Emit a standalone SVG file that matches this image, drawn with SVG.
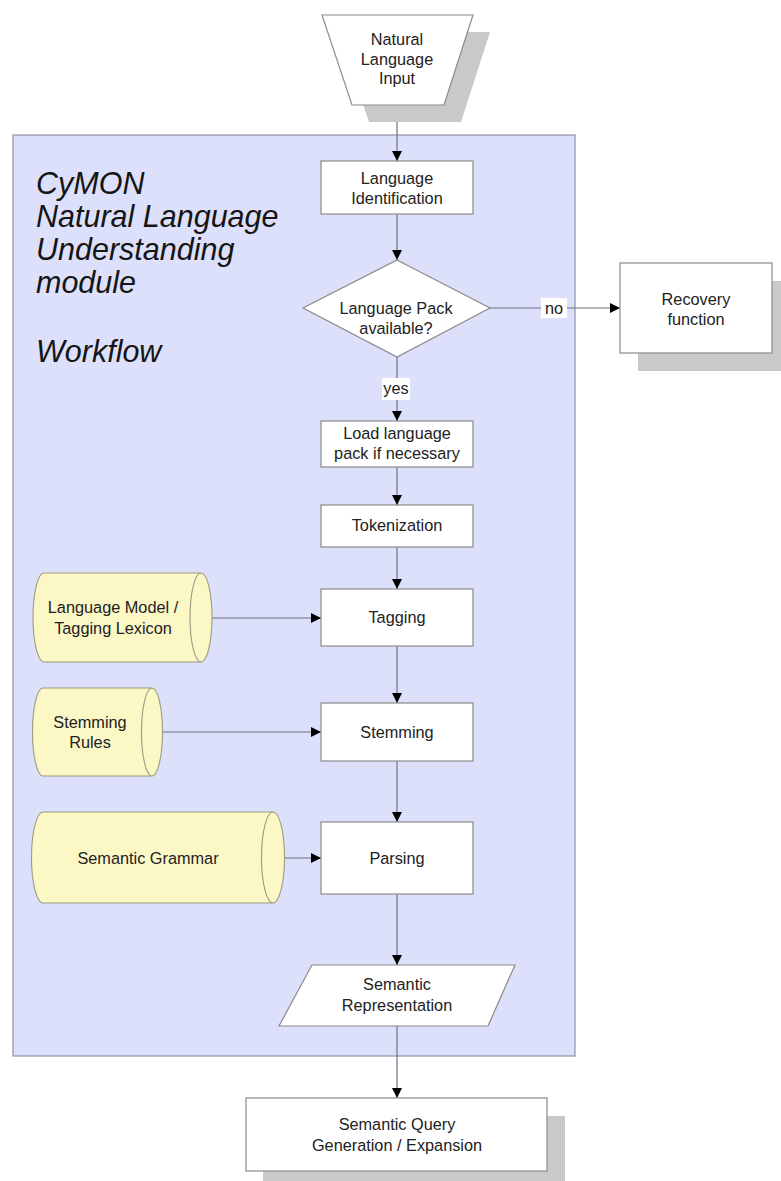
<svg xmlns="http://www.w3.org/2000/svg" width="781" height="1181" viewBox="0 0 781 1181">
<defs>
<marker id="ah" viewBox="0 0 10 10" refX="10" refY="5" markerWidth="10" markerHeight="10" markerUnits="userSpaceOnUse" orient="auto">
<path d="M0,0 L10,5 L0,10 Z" fill="#000"/>
</marker>
<style>
.box{fill:#fff;stroke:#8a8a8a;stroke-width:1.2}
.shadow{fill:#c9c9c9;stroke:none}
.cyl{fill:#fbf8c6;stroke:#9c9a80;stroke-width:1.1}
.t{font-family:"Liberation Sans",Arial,sans-serif;font-size:16.3px;fill:#222;text-anchor:middle}
.title{font-family:"Liberation Sans",Arial,sans-serif;font-size:30.5px;font-style:italic;fill:#151515}
.edge{stroke:#6f7080;stroke-width:1.2;fill:none;marker-end:url(#ah)}
.lbl{fill:#fff}
</style>
</defs>
<rect width="781" height="1181" fill="#fff"/>
<g id="panel">
<rect x="13" y="135" width="562" height="921" fill="#dde0fa" stroke="#8e92a6" stroke-width="1.2"/>
<text class="title" x="36" y="194">CyMON</text>
<text class="title" x="36" y="227">Natural Language</text>
<text class="title" x="36" y="260">Understanding</text>
<text class="title" x="36" y="293">module</text>
<text class="title" x="36" y="362">Workflow</text>
</g>
<g id="connectors">
<line class="edge" x1="397" y1="105" x2="397" y2="161"/>
<line class="edge" x1="397" y1="214" x2="397" y2="260"/>
<line class="edge" x1="490" y1="308" x2="620" y2="308"/>
<rect class="lbl" x="541" y="298" width="26" height="20"/>
<text class="t" x="554" y="314">no</text>
<line class="edge" x1="397" y1="357" x2="397" y2="421"/>
<rect class="lbl" x="382" y="378" width="28" height="22"/>
<text class="t" x="396" y="394">yes</text>
<line class="edge" x1="397" y1="467" x2="397" y2="505"/>
<line class="edge" x1="397" y1="547" x2="397" y2="589"/>
<line class="edge" x1="397" y1="646" x2="397" y2="703"/>
<line class="edge" x1="397" y1="761" x2="397" y2="822"/>
<line class="edge" x1="397" y1="894" x2="397" y2="965"/>
<line class="edge" x1="397" y1="1026" x2="397" y2="1098"/>
<line class="edge" x1="201" y1="618" x2="321" y2="618"/>
<line class="edge" x1="152" y1="732" x2="321" y2="732"/>
<line class="edge" x1="273" y1="858" x2="321" y2="858"/>
</g>
<g id="nl-input">
<path class="shadow" d="M339,32 L490,32 L461,122 L369,122 Z"/>
<path class="box" d="M322,15 L473,15 L444,105 L352,105 Z"/>
<text class="t" x="397" y="45">Natural</text>
<text class="t" x="397" y="65">Language</text>
<text class="t" x="397" y="84">Input</text>
</g>
<g id="lang-id">
<rect class="box" x="321" y="161" width="152" height="53"/>
<text class="t" x="397" y="184">Language</text>
<text class="t" x="397" y="204">Identification</text>
</g>
<g id="decision">
<path class="box" d="M397,260 L490,308 L397,357 L303,308 Z"/>
<text class="t" x="396" y="314">Language Pack</text>
<text class="t" x="396" y="334">available?</text>
</g>
<g id="recovery">
<rect class="shadow" x="638" y="281" width="143" height="90"/>
<rect class="box" x="620" y="263" width="152" height="90"/>
<text class="t" x="696" y="305">Recovery</text>
<text class="t" x="696" y="325">function</text>
</g>
<g id="load-pack">
<rect class="box" x="321" y="421" width="152" height="46"/>
<text class="t" x="397" y="439">Load language</text>
<text class="t" x="397" y="459">pack if necessary</text>
</g>
<g id="tokenization">
<rect class="box" x="321" y="505" width="152" height="42"/>
<text class="t" x="397" y="531">Tokenization</text>
</g>
<g id="tagging">
<rect class="box" x="321" y="589" width="152" height="57"/>
<text class="t" x="397" y="623">Tagging</text>
</g>
<g id="stemming">
<rect class="box" x="321" y="703" width="152" height="58"/>
<text class="t" x="397" y="738">Stemming</text>
</g>
<g id="parsing">
<rect class="box" x="321" y="822" width="152" height="72"/>
<text class="t" x="397" y="864">Parsing</text>
</g>
<g id="lang-model">
<path class="cyl" d="M44,573 L201,573 A11,44.5 0 0 1 201,662 L44,662 A11,44.5 0 0 1 44,573 Z"/>
<path class="cyl" d="M201,573 A11,44.5 0 0 0 201,662"/>
<text class="t" x="113" y="613">Language Model /</text>
<text class="t" x="113" y="634">Tagging Lexicon</text>
</g>
<g id="stem-rules">
<path class="cyl" d="M43,688 L152,688 A10.5,44 0 0 1 152,776 L43,776 A10.5,44 0 0 1 43,688 Z"/>
<path class="cyl" d="M152,688 A10.5,44 0 0 0 152,776"/>
<text class="t" x="90" y="728">Stemming</text>
<text class="t" x="90" y="748">Rules</text>
</g>
<g id="sem-grammar">
<path class="cyl" d="M43,812 L273,812 A11.5,45.5 0 0 1 273,903 L43,903 A11.5,45.5 0 0 1 43,812 Z"/>
<path class="cyl" d="M273,812 A11.5,45.5 0 0 0 273,903"/>
<text class="t" x="148" y="864">Semantic Grammar</text>
</g>
<g id="sem-rep">
<path class="box" d="M312,965 L515,965 L488,1026 L279,1026 Z"/>
<text class="t" x="397" y="990">Semantic</text>
<text class="t" x="397" y="1011">Representation</text>
</g>
<g id="query-gen">
<rect class="shadow" x="263" y="1116" width="302" height="73"/>
<rect class="box" x="246" y="1098" width="301" height="73"/>
<text class="t" x="397" y="1130">Semantic Query</text>
<text class="t" x="397" y="1151">Generation / Expansion</text>
</g>
</svg>
